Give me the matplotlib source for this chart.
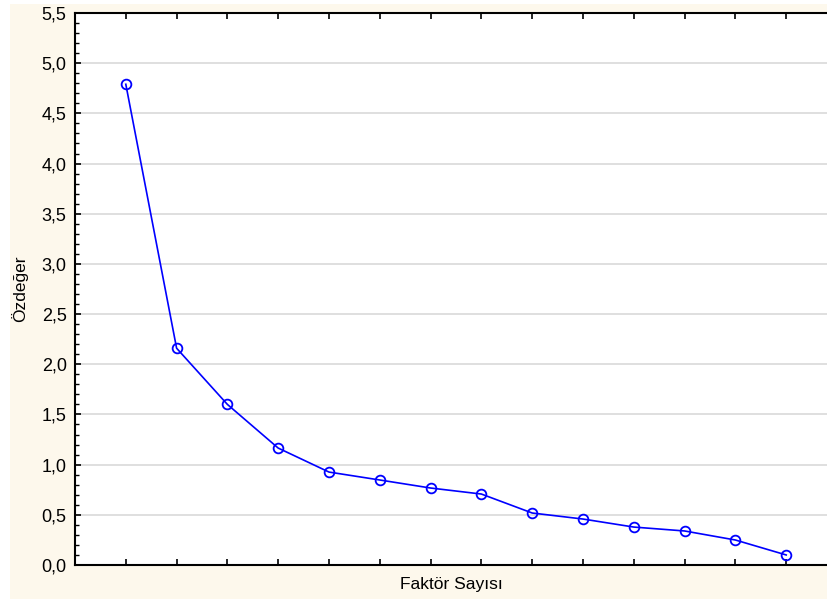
import matplotlib
matplotlib.use("Agg")
import matplotlib.pyplot as plt
from matplotlib.ticker import MultipleLocator, FuncFormatter
from matplotlib.patches import Rectangle

factors = list(range(1, 15))
eigenvalues = [4.79, 2.16, 1.60, 1.165, 0.926, 0.847, 0.767, 0.707,
               0.518, 0.458, 0.378, 0.339, 0.249, 0.10]
x_label = "Faktör Sayısı"
y_label = "Özdeğer"

plt.rcParams['font.family'] = ['Liberation Sans', 'DejaVu Sans']

fig = plt.figure(figsize=(8.28, 5.99), dpi=100, facecolor='white')
fig.patches.append(Rectangle((10/828, 0), 1, (599-4)/599, transform=fig.transFigure,
                             facecolor='#fdf8ec', edgecolor='none', zorder=-10))
ax = fig.add_axes([75/828, 34/599, 753/828, 552/599])
ax.set_facecolor('white')

ax.plot(factors, eigenvalues, color='#0000ff', linewidth=1.2, marker='o',
        markersize=7, markerfacecolor='none', markeredgecolor='#0000ff',
        markeredgewidth=1.3, zorder=3, clip_on=False)

ax.set_xlim(0, 753/50.8)
ax.set_ylim(0, 5.5)
ax.yaxis.set_major_locator(MultipleLocator(0.5))
ax.yaxis.set_minor_locator(MultipleLocator(0.1))
ax.yaxis.set_major_formatter(FuncFormatter(lambda v, p: f"{v:.1f}".replace('.', ',')))
ax.set_xticks(factors)
ax.set_xticklabels([])

ax.grid(axis='y', which='major', color='#dcdcdc', linewidth=1.3, zorder=0)
ax.set_axisbelow(True)

for s in ['left', 'bottom', 'top']:
    ax.spines[s].set_color('black')
    ax.spines[s].set_linewidth(1.5)
ax.spines['right'].set_visible(False)

ax.tick_params(axis='y', which='major', direction='in', length=4, width=1.2,
               labelsize=13, pad=6, right=False)
ax.tick_params(axis='y', which='minor', direction='in', length=3, width=1.0, right=False)
ax.tick_params(axis='x', which='major', direction='in', length=4, width=1.2,
               top=True, bottom=True)

ax.set_xlabel(x_label, fontsize=12.5, labelpad=5)
ax.set_ylabel(y_label, fontsize=12.5, labelpad=10)

fig.savefig("out.png", dpi=100, facecolor=fig.get_facecolor())
